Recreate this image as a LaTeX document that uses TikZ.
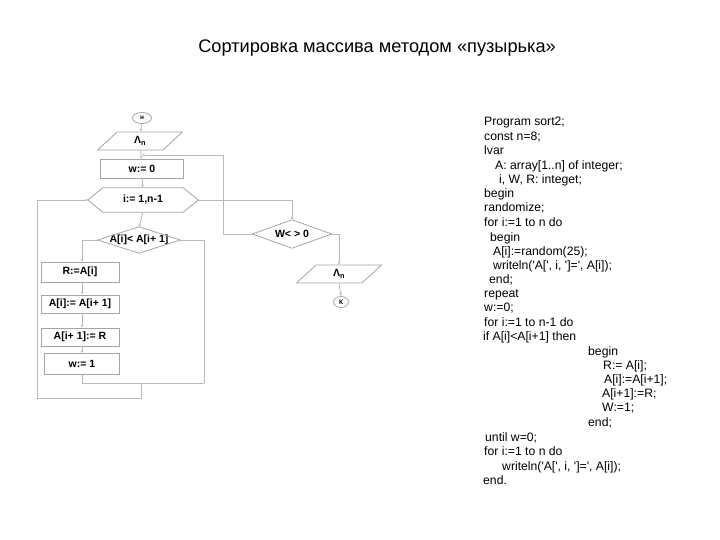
\documentclass[tikz,border=0pt]{standalone}
\usepackage{fontspec}
\setmainfont{Liberation Sans}
\usetikzlibrary{arrows.meta,shapes.geometric}
\definecolor{lineclr}{RGB}{185,185,185}
\definecolor{boxclr}{RGB}{165,165,165}
\newcommand{\q}{\textquotesingle}
\begin{document}
\begin{tikzpicture}[x=1pt,y=-1pt,
  line/.style={draw=lineclr, line width=0.8pt},
  flow/.style={line, -{Stealth[length=3pt,width=2.5pt]}},
  fc/.style={font=\fontsize{10.5}{11}\selectfont\bfseries, inner sep=0pt},
  box/.style={fc, draw=boxclr, line width=0.8pt, rectangle, minimum width=#1, minimum height=19pt},
  para/.style={fc, draw=boxclr, line width=0.8pt, trapezium, trapezium left angle=60, trapezium right angle=120, trapezium stretches=true, minimum width=85pt, minimum height=18pt},
  term/.style={fc, font=\fontsize{6.5}{7}\selectfont\bfseries, draw=boxclr, line width=0.8pt, ellipse, minimum width=#1, minimum height=11pt},
  shp/.style={fc, minimum width=#1},
  code/.style={anchor=base west, inner sep=0pt, font=\fontsize{12.2}{13}\selectfont},
]
\useasboundingbox (0,0) rectangle (720,540);

% title
\node[font=\fontsize{18.2}{19}\selectfont] (title) at (377,48) {Сортировка массива методом «пузырька»};

% flowchart nodes
\node[term=19pt] (start) at (142,118) {н};
\node[para] (in1) at (140,141) {Λ\textsubscript{n}};
\node[box=83pt] (w0) at (142,169) {w:= 0};
\node[shp=110pt, minimum height=24pt] (hex) at (143,200) {i:= 1,n-1};
\draw[line, draw=boxclr] (hex.west) -- ([xshift=15pt]hex.north west) -- ([xshift=-15pt]hex.north east) -- (hex.east) -- ([xshift=-15pt]hex.south east) -- ([xshift=15pt]hex.south west) -- cycle;
\node[shp=82pt, minimum height=26pt] (dA) at (139,240) {A[i]< A[i+ 1]};
\draw[line, draw=boxclr] (dA.west) -- (dA.north) -- (dA.east) -- (dA.south) -- cycle;
\node[box=78pt, minimum height=20pt] (r1) at (80,272) {R:=A[i]};
\node[box=78pt, minimum height=18pt] (r2) at (80,304) {A[i]:= A[i+ 1]};
\node[box=78pt, minimum height=18pt] (r3) at (80,337) {A[i+ 1]:= R};
\node[box=75pt, minimum height=21pt] (r4) at (82,364) {w:= 1};
\node[shp=79pt, minimum height=28pt] (wd) at (292,234) {W< > 0};
\draw[line, draw=boxclr] (wd.west) -- (wd.north) -- (wd.east) -- (wd.south) -- cycle;
\node[para] (out) at (339,274) {Λ\textsubscript{n}};
\node[term=15pt] (fin) at (341,302) {К};

% helper coordinates
\coordinate (j1) at (142,155);
\coordinate (rl) at (223,155);
\coordinate (m1) at (204,383);
\coordinate (m2) at (141,383);
\coordinate (lb) at (37,398);

% connectors
\draw[flow] (start) -- (in1);
\draw[flow] (in1) -- (w0);
\draw[flow] (wd.west) -| (rl) -- (j1);
\draw[flow] (w0) -- (hex);
\draw[flow] (hex.east) -| (wd.north);
\draw[flow] (hex.south) -- (dA.north);
\draw[flow] (dA.west) -| (r1.north -| 82,0);
\draw[flow] (r1.south -| 82,0) -- (r2.north -| 82,0);
\draw[flow] (r2.south -| 82,0) -- (r3.north -| 82,0);
\draw[flow] (r3.south -| 82,0) -- (r4.north -| 82,0);
\draw[line] (r4.south -| 82,0) |- (m1);
\draw[line] (dA.east) -| (m1);
\draw[flow] (m2) |- (lb) |- (hex.west);
\draw[flow] (wd.east) -| (out.north);
\draw[flow] (out.south) -- (fin.north);

% program text
\node[code] (c1) at (484,126) {Program sort2;};
\node[code] (c2) at (484,140.5) {const n=8;};
\node[code] (c3) at (484,155) {lvar};
\node[code] (c4) at (495,169.5) {A: array[1..n] of integer;};
\node[code] (c5) at (499,184) {i, W, R: integet;};
\node[code] (c6) at (484,197) {begin};
\node[code] (c7) at (484,211.5) {randomize;};
\node[code] (c8) at (484,226.5) {for i:=1 to n do};
\node[code] (c9) at (490,241) {begin};
\node[code] (c10) at (493,255.5) {A[i]:=random(25);};
\node[code] (c11) at (493,269.5) {writeln(\q A[\q, i, \q]=\q, A[i]);};
\node[code] (c12) at (489,283.5) {end;};
\node[code] (c13) at (484,297.5) {repeat};
\node[code] (c14) at (484,311.5) {w:=0;};
\node[code] (c15) at (484,326) {for i:=1 to n-1 do};
\node[code] (c16) at (483,340) {if A[i]<A[i+1] then};
\node[code] (c17) at (588,355) {begin};
\node[code] (c18) at (603,369) {R:= A[i];};
\node[code] (c19) at (604,383) {A[i]:=A[i+1];};
\node[code] (c20) at (602,397) {A[i+1]:=R;};
\node[code] (c21) at (602,411.5) {W:=1;};
\node[code] (c22) at (588,426) {end;};
\node[code] (c23) at (485,441.5) {until w=0;};
\node[code] (c24) at (484,455) {for i:=1 to n do};
\node[code] (c25) at (502,470) {writeln(\q A[\q, i, \q]=\q, A[i]);};
\node[code] (c26) at (483,484) {end.};
\end{tikzpicture}
\end{document}
